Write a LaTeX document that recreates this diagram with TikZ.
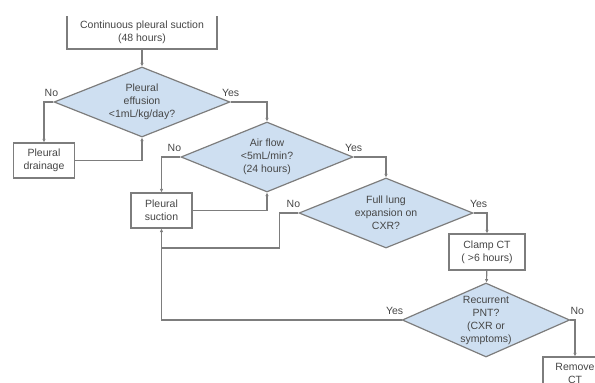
\documentclass[tikz,border=0pt]{standalone}
\usepackage{fontspec}
\setmainfont{Liberation Sans}
\usepackage{xcolor}
\usetikzlibrary{arrows.meta,shapes.geometric}
\definecolor{linegray}{RGB}{125,125,125}
\definecolor{textgray}{RGB}{70,70,70}
\definecolor{decblue}{RGB}{206,223,241}
\begin{document}
\begin{tikzpicture}[x=1pt,y=-1pt,
    every node/.style={font=\fontsize{10.5}{13}\selectfont,text=textgray,align=center},
    stepbox/.style={draw=linegray,line width=1.2pt,fill=white,inner sep=0pt},
    decision/.style={diamond,draw=linegray,line width=1.2pt,fill=decblue,inner sep=0pt,aspect=2.4},
    flow/.style={draw=linegray,line width=1.2pt,-{Latex[length=3.5pt,width=3.5pt]}},
    plain/.style={draw=linegray,line width=1.2pt},
    answer/.style={above=4pt,inner sep=1pt}]
  \useasboundingbox (0,0) rectangle (595,383);
  \clip (0,16.5) rectangle (595,383);
  % boxes
  \node[stepbox,minimum width=150pt,minimum height=34pt] (suction48) at (142,32) {Continuous pleural suction\\(48 hours)};
  \node[stepbox,minimum width=61pt,minimum height=35pt] (drainage) at (44,160.5) {Pleural\\drainage};
  \node[stepbox,minimum width=61pt,minimum height=35pt] (suction) at (161.5,210.5) {Pleural\\suction};
  \node[stepbox,minimum width=76pt,minimum height=36pt] (clamp) at (487,252) {Clamp CT\\( >6 hours)};
  \node[stepbox,minimum width=64pt,minimum height=32pt] (remove) at (575,373) {Remove\\CT};
  % decisions
  \node[decision,minimum width=176pt,minimum height=70pt] (effusion) at (142,102) {Pleural\\effusion\\<1mL/kg/day?};
  \node[decision,minimum width=172pt,minimum height=70pt] (airflow) at (267,157) {Air flow\\<5mL/min?\\(24 hours)};
  \node[decision,minimum width=174pt,minimum height=70pt] (expansion) at (386,213) {Full lung\\expansion on\\CXR?};
  \node[decision,minimum width=162pt,minimum height=74pt] (recurrent) at (486,320) {Recurrent\\PNT?\\(CXR or\\symptoms)};
  \coordinate (join) at (161.5,248);
  % connectors
  \draw[flow] (suction48) -- (effusion);
  \draw[flow] (effusion.west) -| (drainage.north);
  \draw[flow] (drainage.east) -| (effusion.south);
  \draw[flow] (effusion.east) -| (airflow.north);
  \draw[flow] (airflow.west) -| (suction.north);
  \draw[flow] (suction.east) -| (airflow.south);
  \draw[flow] (airflow.east) -| (expansion.north);
  \draw[flow] (expansion.east) -| (clamp.north);
  \draw[plain] (expansion.west) -- ++(-19,0) |- (join);
  \draw[flow] (clamp) -- (recurrent);
  \draw[flow] (recurrent.west) -| (suction.south);
  \draw[flow] (recurrent.east) -| (remove.north);
  % answers
  \node[answer,xshift=-2pt] (no1) at (effusion.west) {No};
  \node[answer] (yes1) at (effusion.east) {Yes};
  \node[answer,xshift=-6pt] (no2) at (airflow.west) {No};
  \node[answer] (yes2) at (airflow.east) {Yes};
  \node[answer,xshift=-5pt] (no3) at (expansion.west) {No};
  \node[answer,xshift=5pt] (yes3) at (expansion.east) {Yes};
  \node[answer,xshift=-7pt] (yes4) at (recurrent.west) {Yes};
  \node[answer,xshift=7pt] (no4) at (recurrent.east) {No};
\end{tikzpicture}
\end{document}
